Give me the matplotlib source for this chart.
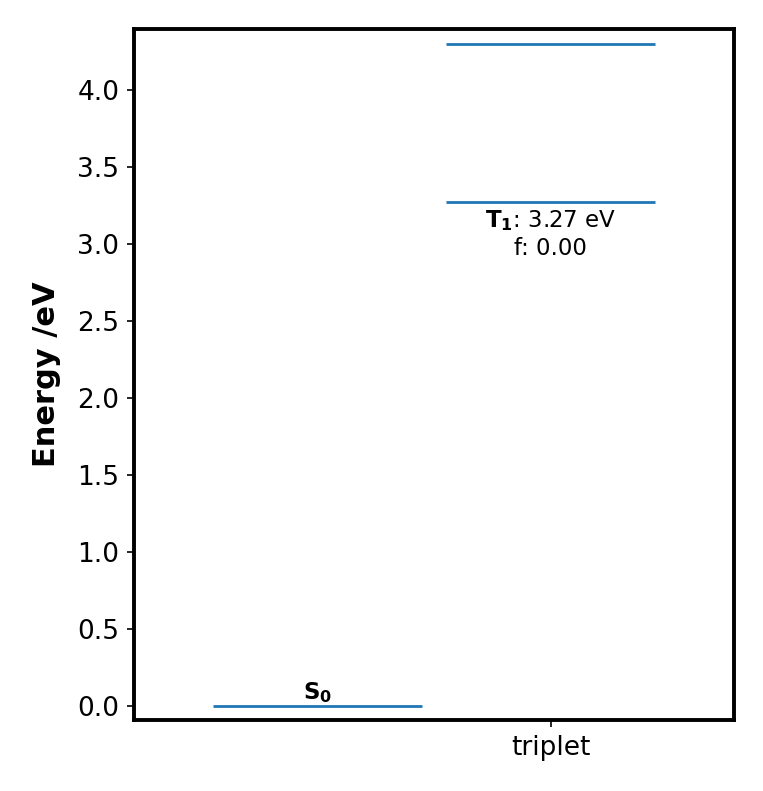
import matplotlib
matplotlib.use("Agg")
import matplotlib.pyplot as plt

# data
s0_energy = [0.0]
triplet_energies = [3.27, 4.30]
triplet_labels = [r"$\mathbf{T_1}$: 3.27 eV" + "\n" + "f: 0.00", None]
column_names = ["triplet"]

fig = plt.figure(figsize=(7.63, 7.91), dpi=100)
ax = fig.add_axes([134/763, 1-720/791, 600/763, 691/791])

half = 0.45
color = "#1f77b4"
for e in s0_energy:
    ax.hlines(e, 0 - half, 0 + half, color=color, lw=2.0)
    ax.text(0, e + 0.01, r"$\mathbf{S_0}$", ha="center", va="bottom", fontsize=16.5)

for e, lab in zip(triplet_energies, triplet_labels):
    ax.hlines(e, 1 - half, 1 + half, color=color, lw=2.0)
    if lab:
        ax.text(1, e - 0.04, lab, ha="center", va="top", fontsize=16.5)

ax.set_xlim(-0.787, 1.787)
ax.set_ylim(-0.09, 4.395)
ax.set_xticks([1])
ax.set_xticklabels(column_names)
ax.tick_params(labelsize=19, length=5, pad=5.5, width=1.2)
ax.set_yticks([0, 0.5, 1.0, 1.5, 2.0, 2.5, 3.0, 3.5, 4.0])
ax.set_ylabel("Energy /eV", fontsize=22, fontweight="bold", labelpad=12)
for s in ax.spines.values():
    s.set_linewidth(2.8)

fig.savefig("out.png", dpi=100)
